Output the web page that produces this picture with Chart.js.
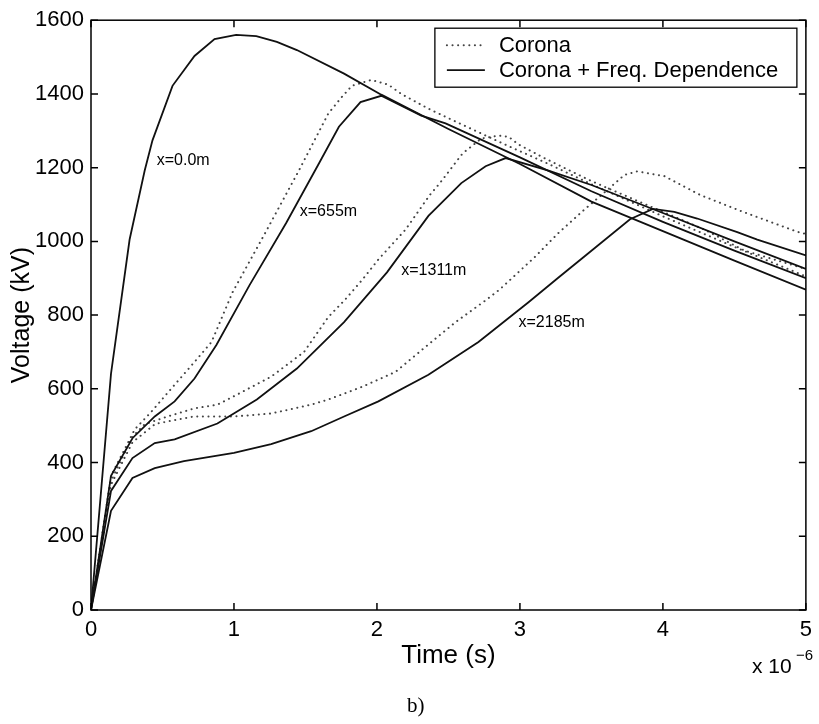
<!DOCTYPE html>
<html>
<head>
<meta charset="utf-8">
<script src="https://cdn.jsdelivr.net/npm/chart.js@4.4.0/dist/chart.umd.min.js"></script>
<style>
  html, body { margin: 0; padding: 0; background: #fff; }
  #chart { display: block; }
</style>
</head>
<body>
<canvas id="chart" width="819" height="724"></canvas>
<script>
// time in microseconds (axis shows x 10^-6 s), voltage in kV

// Corona + Freq. Dependence (solid)
const fd0T = [0, 0.14, 0.27, 0.376, 0.43, 0.57, 0.724, 0.864, 1.015, 1.156, 1.30, 1.44, 1.77, 2.03, 2.5, 3.0, 3.5, 4.0, 4.5, 5.0];
const fd0V = [0, 641, 1005, 1193, 1274, 1422, 1503, 1549, 1560, 1557, 1541, 1519, 1455, 1398, 1305, 1210, 1108, 1028, 948, 869];

const fd655T = [0, 0.14, 0.29, 0.446, 0.585, 0.724, 0.877, 1.107, 1.365, 1.595, 1.734, 1.885, 2.03, 2.31, 2.48, 3.0, 3.5, 4.0, 4.5, 5.0];
const fd655V = [0, 364, 466, 525, 566, 628, 719, 880, 1050, 1212, 1311, 1378, 1395, 1341, 1320, 1228, 1136, 1053, 975, 900];

const fd1311T = [0, 0.14, 0.29, 0.446, 0.585, 0.884, 1.16, 1.44, 1.77, 2.07, 2.36, 2.59, 2.76, 2.90, 3.2, 3.5, 4.0, 4.5, 5.0];
const fd1311V = [0, 323, 412, 453, 463, 506, 571, 655, 781, 916, 1069, 1158, 1204, 1226, 1192, 1153, 1077, 1000, 925];

const fd2185T = [0, 0.14, 0.29, 0.446, 0.65, 1.0, 1.26, 1.54, 1.77, 2.01, 2.36, 2.71, 3.06, 3.27, 3.47, 3.77, 3.93, 4.08, 4.24, 4.52, 4.66, 5.0];
const fd2185V = [0, 269, 358, 385, 404, 426, 450, 485, 525, 566, 638, 727, 835, 902, 965, 1060, 1088, 1080, 1062, 1025, 1005, 962];

// Corona only (dotted)
const c655T = [0, 0.14, 0.306, 0.425, 0.585, 0.724, 0.843, 0.99, 1.22, 1.455, 1.66, 1.755, 1.825, 1.96, 2.08, 2.17, 2.36, 2.55, 2.9, 3.2, 3.5, 4.0, 4.5, 5.0];
const c655V = [0, 364, 490, 539, 611, 673, 727, 862, 1024, 1193, 1347, 1392, 1422, 1438, 1425, 1400, 1360, 1325, 1262, 1210, 1155, 1068, 985, 905];

const c1311T = [0, 0.14, 0.29, 0.376, 0.536, 0.724, 0.884, 1.02, 1.26, 1.49, 1.66, 1.78, 1.90, 2.01, 2.2, 2.37, 2.44, 2.60, 2.73, 2.85, 2.92, 2.99, 3.17, 3.36, 3.47, 3.61, 4.29, 4.57, 5.0];
const c1311V = [0, 350, 470, 504, 525, 547, 557, 584, 633, 700, 795, 843, 897, 951, 1032, 1126, 1158, 1239, 1279, 1287, 1284, 1263, 1226, 1190, 1169, 1145, 1032, 975, 925];

const c2185T = [0, 0.14, 0.29, 0.45, 0.72, 1.0, 1.26, 1.54, 1.66, 1.77, 1.90, 2.13, 2.34, 2.55, 2.76, 2.86, 3.1, 3.27, 3.45, 3.61, 3.73, 3.82, 4.01, 4.26, 4.54, 4.94, 5.0];
const c2185V = [0, 340, 455, 505, 525, 525, 533, 557, 571, 587, 606, 646, 714, 781, 840, 870, 956, 1023, 1086, 1139, 1180, 1190, 1177, 1126, 1083, 1026, 1020];

// curve labels (text + data position)
const curveLabels = ['x=0.0m', 'x=655m', 'x=1311m', 'x=2185m'];
const curveLabelT = [0.46, 1.46, 2.17, 2.99];
const curveLabelV = [1220, 1080, 921, 781];

const xTicks = [0, 1, 2, 3, 4, 5];
const yTicks = [0, 200, 400, 600, 800, 1000, 1200, 1400, 1600];

const SANS = '"Liberation Sans", Arial, Helvetica, sans-serif';

function pts(ts, vs) {
  return ts.map((t, i) => ({ x: t, y: vs[i] }));
}

function solid(label, ts, vs, inLegend) {
  return {
    label, data: pts(ts, vs), inLegend,
    borderColor: '#111', borderWidth: 1.8, pointRadius: 0, fill: false, tension: 0
  };
}
function dotted(label, ts, vs, inLegend) {
  return {
    label, data: pts(ts, vs), inLegend,
    borderColor: '#444', borderWidth: 2, borderDash: [0.1, 5.5], borderCapStyle: 'round',
    pointRadius: 0, fill: false, tension: 0
  };
}

// MATLAB style frame with inward ticks on all four sides
const framePlugin = {
  id: 'frame',
  afterDraw(chart) {
    const { ctx, chartArea: a, scales: { x, y } } = chart;
    const tl = 7;
    ctx.save();
    ctx.strokeStyle = '#000';
    ctx.lineWidth = 1.5;
    ctx.strokeRect(a.left, a.top, a.right - a.left, a.bottom - a.top);
    ctx.beginPath();
    x.ticks.forEach(t => {
      const px = x.getPixelForValue(t.value);
      ctx.moveTo(px, a.bottom); ctx.lineTo(px, a.bottom - tl);
      ctx.moveTo(px, a.top); ctx.lineTo(px, a.top + tl);
    });
    y.ticks.forEach(t => {
      const py = y.getPixelForValue(t.value);
      ctx.moveTo(a.left, py); ctx.lineTo(a.left + tl, py);
      ctx.moveTo(a.right, py); ctx.lineTo(a.right - tl, py);
    });
    ctx.stroke();

    // curve labels
    ctx.fillStyle = '#000';
    ctx.font = '16px ' + SANS;
    ctx.textAlign = 'left';
    ctx.textBaseline = 'middle';
    curveLabels.forEach((txt, i) => {
      ctx.fillText(txt, x.getPixelForValue(curveLabelT[i]), y.getPixelForValue(curveLabelV[i]));
    });

    // legend box
    const bw = 362, bh = 59;
    const bx = a.right - 371, by = a.top + 8;
    ctx.fillStyle = '#fff';
    ctx.fillRect(bx, by, bw, bh);
    ctx.lineWidth = 1.3;
    ctx.strokeRect(bx, by, bw, bh);
    const items = chart.data.datasets.filter(d => d.inLegend);
    items.forEach((d, i) => {
      const cy = by + 17 + i * 25;
      ctx.save();
      ctx.strokeStyle = d.borderColor;
      ctx.lineWidth = d.borderWidth;
      ctx.lineCap = d.borderCapStyle || 'butt';
      ctx.setLineDash(d.borderDash || []);
      ctx.beginPath();
      ctx.moveTo(bx + 12, cy); ctx.lineTo(bx + 50, cy);
      ctx.stroke();
      ctx.restore();
      ctx.fillStyle = '#000';
      ctx.font = '22px ' + SANS;
      ctx.textBaseline = 'middle';
      ctx.fillText(d.label, bx + 64, cy + 1);
    });

    // exponent note and panel letter
    ctx.font = '21px ' + SANS;
    ctx.textBaseline = 'alphabetic';
    ctx.fillText('x 10', 752, 673);
    ctx.font = '15px ' + SANS;
    ctx.fillText('\u22126', 796, 660);
    ctx.font = '21px "Liberation Serif", "Times New Roman", serif';
    ctx.fillText('b)', 407, 712);
    ctx.restore();
  }
};

new Chart(document.getElementById('chart'), {
  type: 'line',
  data: {
    datasets: [
      solid('Corona + Freq. Dependence', fd0T, fd0V, false),
      solid('Corona + Freq. Dependence', fd655T, fd655V, false),
      solid('Corona + Freq. Dependence', fd1311T, fd1311V, false),
      solid('Corona + Freq. Dependence', fd2185T, fd2185V, false),
      dotted('Corona', c655T, c655V, true),
      dotted('Corona', c1311T, c1311V, false),
      dotted('Corona', c2185T, c2185V, false),
      // empty entry so the legend shows the solid style after Corona
      solid('Corona + Freq. Dependence', [], [], true)
    ]
  },
  options: {
    responsive: false,
    devicePixelRatio: 1,
    animation: false,
    layout: { padding: { left: 0, top: 15, right: 10, bottom: 0 } },
    scales: {
      x: {
        type: 'linear', min: 0, max: 5,
        afterBuildTicks: s => { s.ticks = xTicks.map(v => ({ value: v })); },
        afterFit: s => { s.height = 114; },
        grid: { display: false, drawTicks: false },
        border: { display: false },
        ticks: { color: '#000', font: { family: SANS, size: 22 }, padding: 7, maxRotation: 0, callback: v => String(v) },
        title: { display: true, text: 'Time (s)', color: '#000', font: { family: SANS, size: 26 }, padding: { top: 0, bottom: 53 } }
      },
      y: {
        min: 0, max: 1600,
        afterBuildTicks: s => { s.ticks = yTicks.map(v => ({ value: v })); },
        afterFit: s => { s.width = 91; },
        grid: { display: false, drawTicks: false },
        border: { display: false },
        ticks: { color: '#000', font: { family: SANS, size: 22 }, padding: 7, callback: v => String(v) },
        title: { display: true, text: 'Voltage (kV)', color: '#000', font: { family: SANS, size: 25 }, padding: { top: 7, bottom: 0 } }
      }
    },
    plugins: {
      legend: { display: false },
      tooltip: { enabled: false }
    }
  },
  plugins: [framePlugin]
});
</script>
</body>
</html>
